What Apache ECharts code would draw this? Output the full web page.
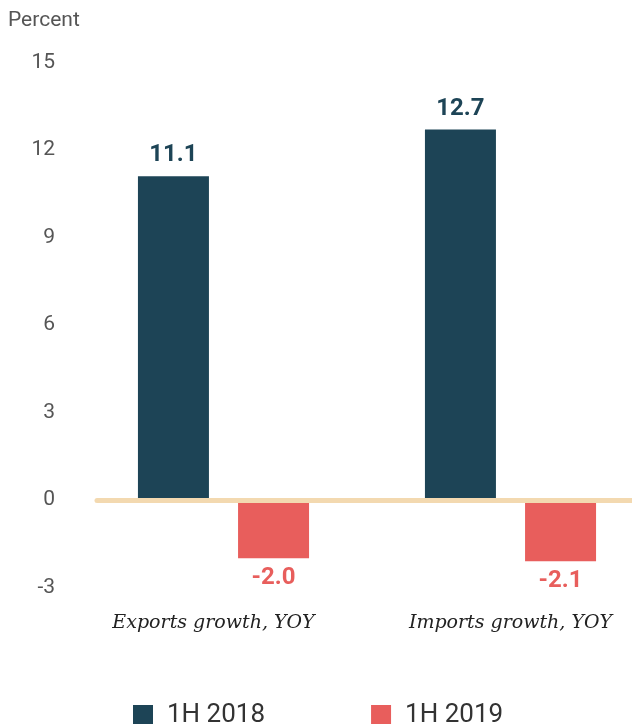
<!DOCTYPE html>
<html><head><meta charset="utf-8">
<script src="https://cdn.jsdelivr.net/npm/echarts@6/dist/echarts.min.js"></script>
<style>html,body{margin:0;padding:0;background:#fff}#c{width:632px;height:724px}</style>
</head><body><div id="c"></div>
<script>
const categories = ['Exports growth, YOY', 'Imports growth, YOY'];
const seriesNames = ['1H 2018', '1H 2019'];
const values2018 = [11.1, 12.7];
const values2019 = [-2.0, -2.1];
const yTicks = { min: -3, max: 15, interval: 3 };

const chart = echarts.init(document.getElementById('c'));
chart.setOption({
  backgroundColor: '#fff',
  animation: false,
  title: { text: 'Percent', left: 8, top: 10, padding: 0, textStyle: { fontFamily: 'Roboto', fontSize: 21, fontWeight: 'normal', color: '#555' } },
  grid: { left: 80, width: 574, top: 62.5, height: 525, containLabel: false, outerBoundsMode: 'none' },
  legend: {
    data: seriesNames, left: 133, top: 702, padding: 0, itemWidth: 20, itemHeight: 20, itemGap: 106, icon: 'rect',
    textStyle: { fontFamily: 'Roboto', fontSize: 26, color: '#333', padding: [0, 0, 0, 9] }
  },
  xAxis: {
    type: 'category',
    data: categories.map((c, i) => i === 0 ? { value: c, textStyle: { padding: [0, 20, 0, 0] } } : c),
    axisLine: { show: false, onZero: false }, axisTick: { show: false },
    axisLabel: { margin: 26, fontFamily: '"DejaVu Serif", serif', fontStyle: 'italic', fontSize: 19, color: '#222' }
  },
  yAxis: {
    type: 'value', min: yTicks.min, max: yTicks.max, interval: yTicks.interval,
    splitLine: { show: false }, axisLine: { show: false }, axisTick: { show: false },
    axisLabel: { margin: 25, fontFamily: 'Roboto', fontSize: 21, color: '#555' }
  },
  series: [
    {
      name: seriesNames[0], type: 'bar', data: values2018, barWidth: 71, barGap: '41%',
      itemStyle: { color: '#1d4456' },
      label: { show: true, position: 'top', distance: 9, formatter: p => p.value.toFixed(1), fontFamily: 'Roboto', fontWeight: 'bold', fontSize: 24, color: '#1d4456' },
      markLine: {
        silent: true, symbol: ['none', 'none'], label: { show: false }, z: 10,
        lineStyle: { color: '#f3d9b0', width: 5, type: 'solid', cap: 'round' },
        data: [[{ x: 97, yAxis: 0 }, { x: 640, yAxis: 0 }]]
      }
    },
    {
      name: seriesNames[1], type: 'bar', data: values2019, barWidth: 71,
      itemStyle: { color: '#e85e5c' },
      label: { show: true, position: 'bottom', distance: 8, formatter: p => p.value.toFixed(1), fontFamily: 'Roboto', fontWeight: 'bold', fontSize: 24, color: '#e85e5c' }
    }
  ]
});
</script></body></html>
